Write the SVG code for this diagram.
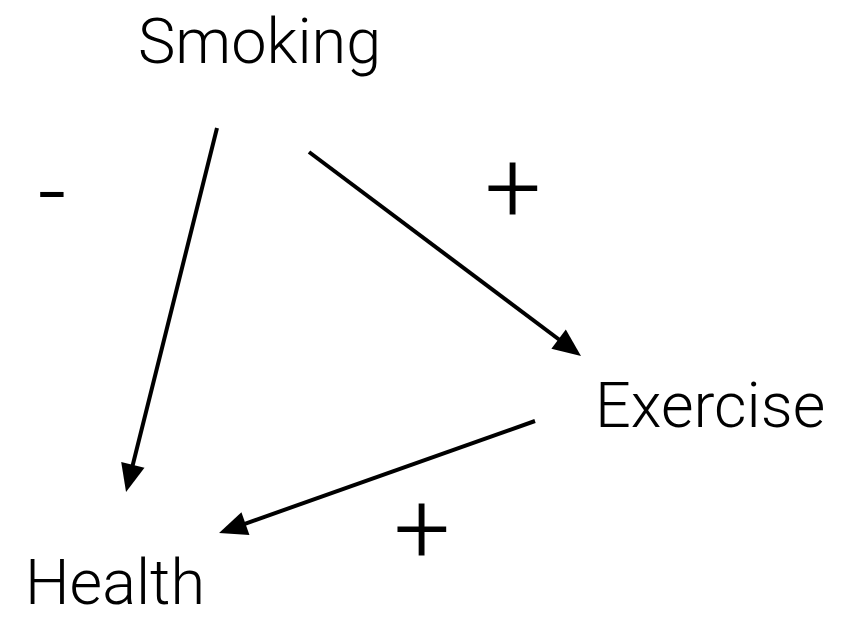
<svg xmlns="http://www.w3.org/2000/svg" width="845" height="618" viewBox="0 0 845 618">
<style>
.lbl{font-family:Roboto,"Liberation Sans",Arial,sans-serif;font-weight:300;font-size:63px;fill:#000}
.sign{font-family:Roboto,"Liberation Sans",Arial,sans-serif;font-weight:300;font-size:100px;fill:#000;text-anchor:middle}
.edge{stroke:#000;stroke-width:4;fill:none}
</style>
<defs>
<marker id="ah" markerUnits="strokeWidth" markerWidth="7" markerHeight="6" refX="2" refY="3" orient="auto" overflow="visible">
<path d="M0,0 L7,3 L0,6 z" fill="#000"/>
</marker>
</defs>
<rect width="845" height="618" fill="#fff"/>
<g id="connectors">
<line class="edge" x1="217" y1="128" x2="130.9" y2="472.6" marker-end="url(#ah)"/>
<line class="edge" x1="309" y1="152" x2="565" y2="344" marker-end="url(#ah)"/>
<line class="edge" x1="535" y1="421" x2="237.9" y2="526.3" marker-end="url(#ah)"/>
<text class="sign" x="52" y="226" font-size="110">-</text>
<text class="sign" x="513" y="222">+</text>
<text class="sign" x="422" y="563">+</text>
</g>
<g id="smoking"><text class="lbl" x="138" y="63">Smoking</text></g>
<g id="exercise"><text class="lbl" x="595" y="427">Exercise</text></g>
<g id="health"><text class="lbl" x="25" y="604">Health</text></g>
</svg>
